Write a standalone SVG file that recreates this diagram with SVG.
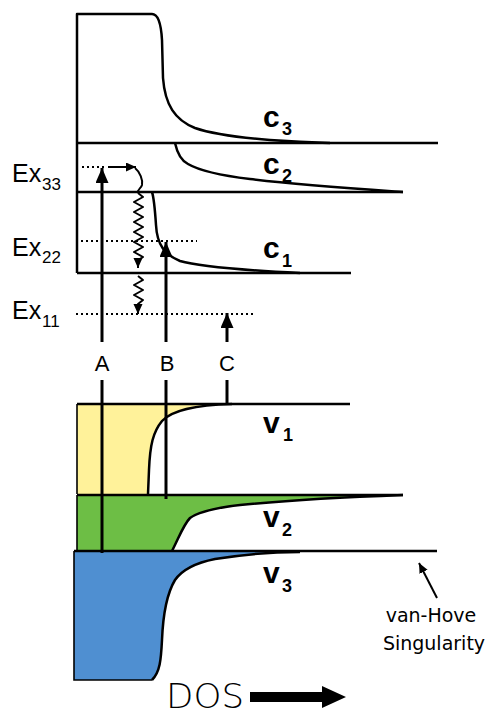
<svg xmlns="http://www.w3.org/2000/svg" width="495" height="717" viewBox="0 0 495 717">
<defs>
<style>
.ln{fill:none;stroke:#000;stroke-width:2.5;stroke-linejoin:round}
.thin{fill:none;stroke:#000;stroke-width:1.6}
.arr{fill:none;stroke:#000;stroke-width:3}
.dot{fill:none;stroke:#000;stroke-width:2;stroke-dasharray:2 3}
.wav{fill:none;stroke:#000;stroke-width:2;stroke-linejoin:round}
.lbl{font-family:"Liberation Sans",Arial,sans-serif;fill:#000}
.band{font-family:"Liberation Sans",Arial,sans-serif;font-weight:bold;fill:#000}
.bm{font-size:30px}
.bs{font-size:18px}
</style>
<marker id="big" markerUnits="userSpaceOnUse" markerWidth="16" markerHeight="14" refX="15" refY="6.5" orient="auto">
<path d="M0,0 L15,6.5 L0,13 z" fill="#000"/>
</marker>
<marker id="sm" markerUnits="userSpaceOnUse" markerWidth="11" markerHeight="10" refX="10" refY="4.5" orient="auto">
<path d="M0,0 L10,4.5 L0,9 z" fill="#000"/>
</marker>
</defs>
<rect width="495" height="717" fill="#fff"/>

<g id="band-c3">
<path class="ln" d="M77,143 V14 H152 C158,14 161,22 162,40 L163,78 C165,105 175,120 195,128 C215,135 245,138 270,140 C290,141.5 310,142.5 330,143"/>
<path class="ln" d="M77,143 H438"/>
<text class="band bm" x="263" y="127">c</text>
<text class="band bs" x="282" y="135">3</text>
</g>

<g id="band-c2">
<path class="ln" d="M175,143 C177,152 180,160 188,164 C200,171 225,176 250,179 C300,185 360,189 403,192"/>
<path class="ln" d="M77,192 H403"/>
<text class="band bm" x="263" y="174">c</text>
<text class="band bs" x="282" y="182">2</text>
</g>

<g id="band-c1">
<path class="ln" d="M77,143 V273"/>
<path class="ln" d="M152,192 C154,198 155,210 156,225 C157,245 165,255 180,261 C200,267 240,270 300,273"/>
<path class="ln" d="M77,273 H351"/>
<text class="band bm" x="263" y="258">c</text>
<text class="band bs" x="282" y="267">1</text>
</g>

<g id="band-v1">
<path d="M77,404 H232 C195,405 172,410 162,421 C153,432 150,445 149,470 L148,494 H77 Z" fill="#fff29a"/>
<path class="thin" d="M77,494 V404"/>
<path class="ln" d="M232,404 C195,405 172,410 162,421 C153,432 150,445 149,470 L148,494"/>
<path class="ln" d="M77,404 H350"/>
<text class="band bm" x="263" y="433">v</text>
<text class="band bs" x="283" y="441">1</text>
</g>

<g id="band-v2">
<path d="M77,495 H403 C350,497 290,500 240,505 C215,508 198,512 190,518 C184,524 180,535 172,551 H77 Z" fill="#6dbe45"/>
<path class="thin" d="M77,551 V495"/>
<path class="ln" d="M403,495 C350,497 290,500 240,505 C215,508 198,512 190,518 C184,524 180,535 172,551"/>
<path class="ln" d="M77,495 H403"/>
<text class="band bm" x="263" y="527">v</text>
<text class="band bs" x="282" y="536">2</text>
</g>

<g id="band-v3">
<path d="M74,551 H300 C270,552 240,555 215,559 C195,563 182,570 175,580 C166,595 163,615 162,640 C161,660 160,672 152,680 H74 Z" fill="#4f8fd1"/>
<path class="thin" d="M74,551 V680 H152"/>
<path class="ln" d="M300,552 C270,552 240,555 215,559 C195,563 182,570 175,580 C166,595 163,615 162,640 C161,660 160,672 152,680"/>
<path class="ln" d="M74,551 H437"/>
<text class="band bm" x="263" y="583">v</text>
<text class="band bs" x="282" y="592">3</text>
</g>

<g id="levels">
<path class="dot" d="M82,167 H107"/>
<path class="dot" d="M81,241 H197"/>
<path class="dot" d="M76,314 H256"/>
<text class="lbl" x="12" y="182" font-size="25">Ex</text>
<text class="lbl" x="42" y="190" font-size="17">33</text>
<text class="lbl" x="12" y="256" font-size="25">Ex</text>
<text class="lbl" x="42" y="263" font-size="17">22</text>
<text class="lbl" x="12" y="319" font-size="25">Ex</text>
<text class="lbl" x="42" y="327" font-size="17">11</text>
</g>

<g id="connectors">
<path class="arr" d="M102,553 V380"/>
<path class="arr" d="M102,342 V168" marker-end="url(#big)"/>
<path class="arr" d="M166,499 V380"/>
<path class="arr" d="M166,342 V242" marker-end="url(#big)"/>
<path class="arr" d="M227,404 V380"/>
<path class="arr" d="M227,342 V313" marker-end="url(#big)"/>
<path class="wav" d="M108,167 H136" marker-end="url(#sm)"/>
<path class="wav" d="M135,168 C140,172 143,180 142,185 C141,189 137,189 138,193"/>
<path class="wav" d="M138,193 L143,197 L134,202 L143,207 L134,212 L143,217 L134,222 L143,227 L134,232 L143,237 L134,242 L143,247 L134,252 L143,257 L138,260 L138,268" marker-end="url(#sm)"/>
<path class="wav" d="M138,276 L143,280 L134,285 L143,290 L134,295 L143,300 L138,304 L138,314" marker-end="url(#sm)"/>
<path class="wav" d="M437,598 L419,563" marker-end="url(#sm)"/>
<text class="lbl" x="102" y="371" font-size="22" text-anchor="middle">A</text>
<text class="lbl" x="167" y="371" font-size="22" text-anchor="middle">B</text>
<text class="lbl" x="227" y="371" font-size="22" text-anchor="middle">C</text>
</g>

<g id="vanhove-label">
<text x="431" y="622" font-family="DejaVu Sans,sans-serif" font-size="19" text-anchor="middle">van-Hove</text>
<text x="434" y="650" font-family="DejaVu Sans,sans-serif" font-size="19" text-anchor="middle">Singularity</text>
</g>

<g id="dos-axis">
<text x="166" y="708" font-family="DejaVu Sans,sans-serif" font-size="33" font-weight="200" textLength="78" lengthAdjust="spacingAndGlyphs">DOS</text>
<path d="M250,692 H322 V686 L346,697 L322,708 V702 H250 Z" fill="#000"/>
</g>
</svg>
